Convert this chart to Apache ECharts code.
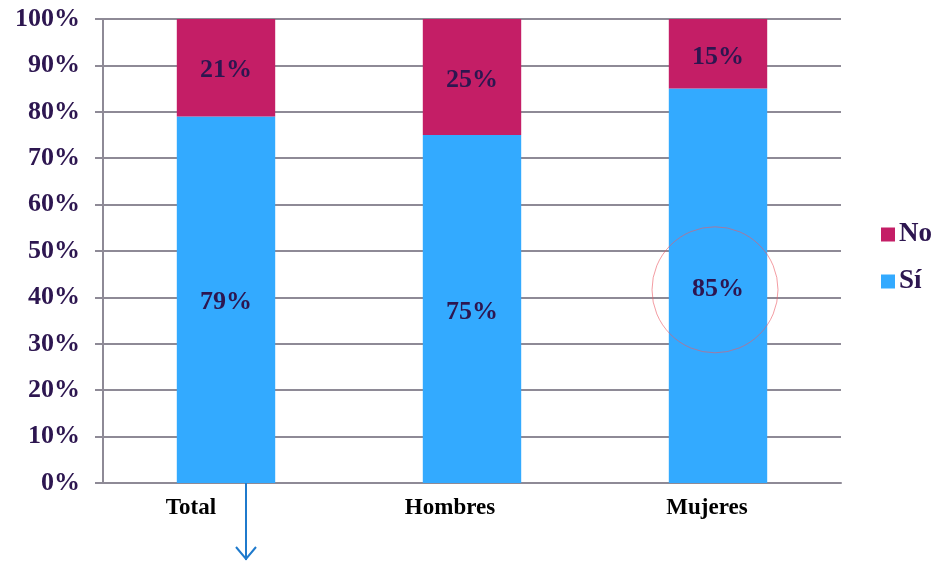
<!DOCTYPE html>
<html><head><meta charset="utf-8">
<script src="https://cdn.jsdelivr.net/npm/echarts@6/dist/echarts.min.js"></script>
<style>html,body{margin:0;padding:0;background:#fff}#c{width:934px;height:563px}</style>
</head><body><div id="c"></div>
<script>
var categories = ['Total', 'Hombres', 'Mujeres'];
var siValues = [79, 75, 85];
var noValues = [21, 25, 15];
var yTicks = [0, 10, 20, 30, 40, 50, 60, 70, 80, 90, 100];

var chart = echarts.init(document.getElementById('c'), null, {renderer: 'canvas'});
var textColor = '#2D1650';
var serif = '"Liberation Serif", "Times New Roman", serif';
var labelStyle = {show: true, position: 'inside', offset: [0, 3], formatter: '{c}%', color: textColor, fontFamily: serif, fontWeight: 'bold', fontSize: 26};
var catShift = [70, 44, 22];
var rich = {};
catShift.forEach(function (s, i) {
  rich['c' + i] = {color: '#000', fontFamily: serif, fontWeight: 'bold', fontSize: 23, padding: [0, s, 0, 0]};
});
chart.setOption({
  animation: false,
  grid: {left: 103, right: 93, top: 19, bottom: 80, containLabel: false},
  legend: {
    orient: 'vertical', left: 876, top: 216, itemGap: 20, itemWidth: 14, itemHeight: 14,
    icon: 'rect',
    data: ['No', 'Sí'],
    textStyle: {color: textColor, fontFamily: serif, fontWeight: 'bold', fontSize: 27, padding: [0, 0, 0, -1]}
  },
  xAxis: {
    type: 'category', data: categories,
    axisLine: {lineStyle: {color: '#8E8A96', width: 2}},
    axisTick: {show: false},
    axisLabel: {margin: 14, rich: rich,
      formatter: function (v, i) { return '{c' + i + '|' + v + '}'; }}
  },
  yAxis: {
    type: 'value', min: 0, max: 100, interval: 10,
    axisLine: {show: true, lineStyle: {color: '#8E8A96', width: 2}},
    axisTick: {show: true, length: 8, lineStyle: {color: '#8E8A96', width: 2}},
    splitLine: {lineStyle: {color: '#8E8A96', width: 2}},
    axisLabel: {color: textColor, fontFamily: serif, fontWeight: 'bold', fontSize: 26, margin: 23, padding: [4, 0, 0, 0],
      formatter: function (v) { return yTicks.indexOf(v) >= 0 ? v + '%' : ''; }}
  },
  series: [
    {name: 'Sí', type: 'bar', stack: 't', data: siValues, barWidth: '40%', itemStyle: {color: '#33AAFF'}, label: labelStyle},
    {name: 'No', type: 'bar', stack: 't', data: noValues, barWidth: '40%', itemStyle: {color: '#C41E66'}, label: labelStyle}
  ]
});

// annotations: circle around Mujeres Sí label and arrow below Total
var pc = chart.convertToPixel({gridIndex: 0}, ['Mujeres', siValues[2] / 2]);
var pt = chart.convertToPixel({gridIndex: 0}, ['Total', 0]);
chart.setOption({
  graphic: [
    {type: 'circle', shape: {cx: pc[0] - 3, cy: pc[1] + 4, r: 63}, style: {fill: null, stroke: 'rgba(235,90,100,0.6)', lineWidth: 1}, z: 100},
    {type: 'line', shape: {x1: pt[0] + 20, y1: pt[1], x2: pt[0] + 20, y2: 560}, style: {stroke: '#1F7ACC', lineWidth: 2}, z: 100},
    {type: 'polyline', shape: {points: [[pt[0] + 10, pt[1] + 64], [pt[0] + 20, pt[1] + 76], [pt[0] + 30, pt[1] + 64]]}, style: {stroke: '#1F7ACC', lineWidth: 2, fill: null}, z: 100}
  ]
});
</script></body></html>
